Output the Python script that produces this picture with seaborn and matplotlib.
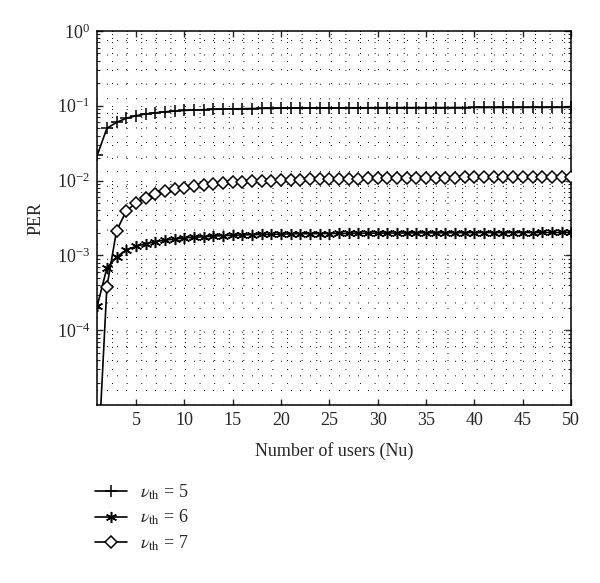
import numpy as np
import pandas as pd
import matplotlib
matplotlib.use('Agg')
import matplotlib.pyplot as plt
import matplotlib.ticker as mticker
from matplotlib.lines import Line2D
import seaborn as sns

# number of users
users = list(range(1, 51))

# PER for nu_th = 5 (plus markers)
per_th5 = [0.0217, 0.050, 0.060, 0.068, 0.0736, 0.0776, 0.0805, 0.083, 0.085, 0.0865,
           0.0877, 0.0887, 0.0896, 0.0903, 0.0909, 0.0914, 0.0918, 0.0922, 0.0925, 0.0928,
           0.0930, 0.0932, 0.0934, 0.0936, 0.0937, 0.0938, 0.0939, 0.0940, 0.0941, 0.0942,
           0.0943, 0.0944, 0.0944, 0.0945, 0.0945, 0.0946, 0.0946, 0.0947, 0.0947, 0.0948,
           0.0948, 0.0948, 0.0949, 0.0949, 0.0949, 0.0950, 0.0950, 0.0950, 0.0951, 0.0951]

# PER for nu_th = 6 (asterisk markers)
per_th6 = [2.1e-4, 6.8e-4, 9.5e-4, 1.19e-3, 1.32e-3, 1.43e-3, 1.53e-3, 1.60e-3, 1.66e-3, 1.71e-3,
           1.75e-3, 1.78e-3, 1.81e-3, 1.84e-3, 1.86e-3, 1.88e-3, 1.895e-3, 1.91e-3, 1.92e-3, 1.93e-3,
           1.94e-3, 1.95e-3, 1.955e-3, 1.96e-3, 1.965e-3, 1.97e-3, 1.975e-3, 1.98e-3, 1.985e-3, 1.99e-3,
           1.99e-3, 1.995e-3, 2.0e-3, 2.0e-3, 2.005e-3, 2.005e-3, 2.01e-3, 2.01e-3, 2.015e-3, 2.015e-3,
           2.02e-3, 2.02e-3, 2.02e-3, 2.025e-3, 2.025e-3, 2.025e-3, 2.03e-3, 2.03e-3, 2.03e-3, 2.03e-3]

# PER for nu_th = 7 (diamond markers)
per_th7 = [1.1e-6, 3.8e-4, 2.14e-3, 3.9e-3, 5.06e-3, 5.9e-3, 6.7e-3, 7.2e-3, 7.8e-3, 8.0e-3,
           8.4e-3, 8.7e-3, 9.0e-3, 9.3e-3, 9.45e-3, 9.6e-3, 9.75e-3, 9.9e-3, 10.0e-3, 10.1e-3,
           10.2e-3, 10.3e-3, 10.35e-3, 10.4e-3, 10.5e-3, 10.55e-3, 10.6e-3, 10.65e-3, 10.7e-3, 10.75e-3,
           10.8e-3, 10.82e-3, 10.85e-3, 10.9e-3, 10.92e-3, 10.95e-3, 10.97e-3, 11.0e-3, 11.02e-3, 11.04e-3,
           11.06e-3, 11.08e-3, 11.1e-3, 11.11e-3, 11.12e-3, 11.14e-3, 11.15e-3, 11.16e-3, 11.18e-3, 11.2e-3]

labels = [r'$\nu_{\mathrm{th}}$ = 5', r'$\nu_{\mathrm{th}}$ = 6', r'$\nu_{\mathrm{th}}$ = 7']

sns.set_style('ticks')
plt.rcParams['font.family'] = ['Liberation Serif', 'DejaVu Serif']
plt.rcParams['mathtext.fontset'] = 'stix'
plt.rcParams['font.size'] = 13

fig = plt.figure(figsize=(6, 5.83), dpi=100)
ax = fig.add_axes([0.162, 0.305, 0.79, 0.642])

asterisk = (6, 2, 0)
styles = [
    dict(marker='+', markersize=9, markeredgewidth=1.1),
    dict(marker=asterisk, markersize=8, markeredgewidth=1.1),
    dict(marker='D', markersize=6.5, markeredgewidth=1.1, markerfacecolor='white'),
]

for vals, st in zip([per_th5, per_th6, per_th7], styles):
    sns.lineplot(x=users, y=vals, color='k', linewidth=1.2, markeredgecolor='k',
                 linestyle='-', ax=ax, zorder=3, **st)

ax.set_yscale('log')
ax.set_xlim(1, 50)
ax.set_ylim(1e-5, 1)
ax.set_xticks([5, 10, 15, 20, 25, 30, 35, 40, 45, 50])
ax.xaxis.set_minor_locator(mticker.MultipleLocator(1))
ax.set_yticks([1e-4, 1e-3, 1e-2, 1e-1, 1e0])
ax.yaxis.set_minor_locator(mticker.LogLocator(base=10, subs=np.arange(2, 10), numticks=20))
ax.yaxis.set_minor_formatter(mticker.NullFormatter())

ax.grid(True, which='both', color='k', linestyle=(0, (1, 14)), linewidth=0.7)
ax.tick_params(which='both', direction='in', top=True, right=True, labelsize=13)
ax.tick_params(which='major', length=4, width=1, pad=5)
ax.tick_params(axis='y', which='minor', length=2.5, width=0.8)
ax.tick_params(axis='x', which='minor', length=0)
for sp in ax.spines.values():
    sp.set_linewidth(1.1)
    sp.set_color('k')

ax.set_xlabel('Number of users (Nu)', fontsize=13, labelpad=9)
ax.set_ylabel('PER', fontsize=13, labelpad=9)

handles = [Line2D([0], [0], color='k', linewidth=1.2, markeredgecolor='k', **st) for st in styles]
fig.legend(handles, labels, loc='upper left', bbox_to_anchor=(0.158, 0.173),
           frameon=False, borderpad=0, borderaxespad=0, handlelength=1.8,
           handletextpad=0.7, labelspacing=0.35, fontsize=13)

fig.savefig('out.png', dpi=100)
